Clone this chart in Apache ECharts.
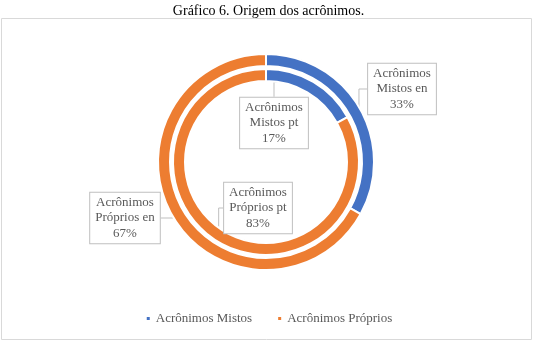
<!DOCTYPE html>
<html>
<head>
<meta charset="utf-8">
<script src="https://cdn.jsdelivr.net/npm/echarts@6/dist/echarts.min.js"></script>
<style>html,body{margin:0;padding:0;background:#fff}#c{width:537px;height:345px}</style>
</head>
<body>
<div id="c"></div>
<script>
const titleText = 'Gráfico 6. Origem dos acrônimos.';
const categories = ['Acrônimos Mistos', 'Acrônimos Próprios'];
const enValues = [33, 67];   // outer ring
const ptValues = [17, 83];   // inner ring
const colors = ['#4472C4', '#ED7D31'];

const chart = echarts.init(document.getElementById('c'), null, {renderer: 'canvas'});
const serif = "'Liberation Serif', 'Times New Roman', serif";

function fmt(p) {
  const parts = p.name.split(' ');
  return parts[0] + '\n' + parts[1] + ' ' + p.seriesName + '\n' + Math.round(p.percent) + '%';
}
const labelStyle = {
  show: true,
  formatter: fmt,
  fontFamily: serif,
  fontSize: 13,
  lineHeight: 15.5,
  color: '#595959',
  backgroundColor: '#fff',
  borderColor: '#bfbfbf',
  borderWidth: 1,
  padding: [2, 5, 2, 5],
  align: 'center'
};
const outerPos = [[402, 89], [125, 218]];
const innerPos = [[274, 123], [258, 208]];

chart.setOption({
  animation: false,
  color: colors,
  title: {
    text: titleText, left: 'center', top: -1,
    textStyle: {fontFamily: serif, fontSize: 14, fontWeight: 'normal', color: '#000'}
  },
  graphic: [{
    type: 'rect', shape: {x: 1.5, y: 18.5, width: 530, height: 321},
    style: {fill: 'none', stroke: '#d9d9d9', lineWidth: 1}, z: -1
  }],
  legend: {
    data: categories, bottom: 15, left: 'center', icon: 'rect',
    itemWidth: 5, itemHeight: 5, itemGap: 24,
    textStyle: {fontFamily: serif, fontSize: 13, color: '#595959'}
  },
  series: [{
    name: 'en', type: 'pie', center: [266, 162], radius: [96, 108],
    startAngle: 90, clockwise: true,
    itemStyle: {borderColor: '#fff', borderWidth: 2},
    label: labelStyle,
    labelLine: {show: true, lineStyle: {color: '#bfbfbf', width: 1}},
    labelLayout: p => ({x: outerPos[p.dataIndex][0], y: outerPos[p.dataIndex][1], align: 'center', verticalAlign: 'middle'}),
    emphasis: {disabled: true},
    data: categories.map((c, i) => ({name: c, value: enValues[i]}))
  }, {
    name: 'pt', type: 'pie', center: [266, 162], radius: [81, 93],
    startAngle: 90, clockwise: true,
    itemStyle: {borderColor: '#fff', borderWidth: 2},
    label: labelStyle,
    labelLine: {show: true, lineStyle: {color: '#bfbfbf', width: 1}},
    labelLayout: p => ({x: innerPos[p.dataIndex][0], y: innerPos[p.dataIndex][1], align: 'center', verticalAlign: 'middle'}),
    emphasis: {disabled: true},
    data: categories.map((c, i) => ({name: c, value: ptValues[i]}))
  }]
});
</script>
</body>
</html>
